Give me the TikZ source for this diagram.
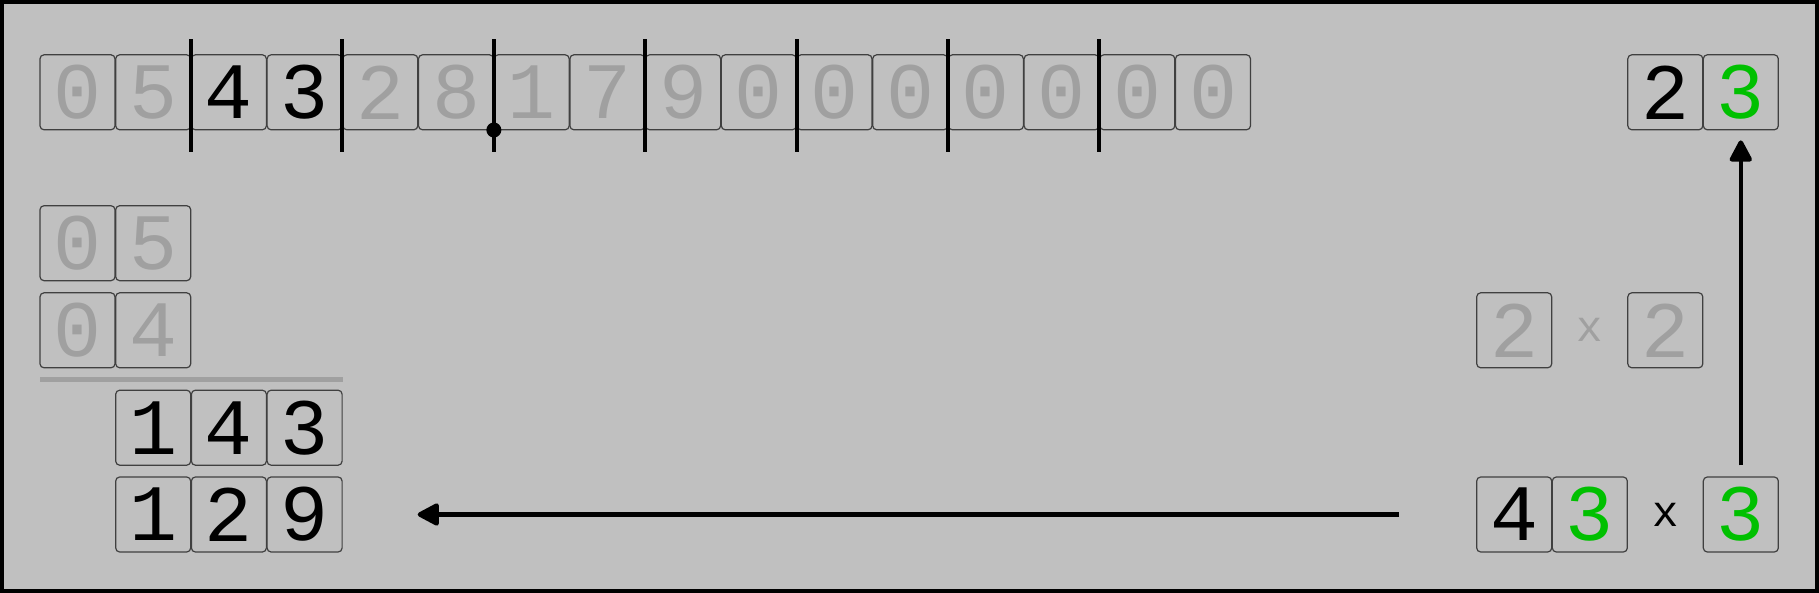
\documentclass[tikz,border=0pt]{standalone}
\usepackage{fontspec}
\setmonofont{Liberation Mono}
\usetikzlibrary{arrows.meta,calc}
\definecolor{bgc}{HTML}{C0C0C0}
\definecolor{dimc}{HTML}{A0A0A0}
\definecolor{boxc}{HTML}{404040}
\definecolor{grn}{HTML}{00C000}
\tikzset{
  cell/.style={draw=boxc, line width=1.2pt, rounded corners=4pt, minimum width=75pt, minimum height=75pt, inner sep=0pt, font=\ttfamily\fontsize{80}{96}\selectfont},
  dim/.style={text=dimc},
  hi/.style={text=black},
  gr/.style={text=grn},
  times/.style={inner sep=0pt, font=\ttfamily\fontsize{44}{50}\selectfont},
  sepline/.style={line width=4pt, black},
  arr/.style={line width=4.5pt, -{Triangle[length=24pt,width=24pt,round]}},
}
\begin{document}
\begin{tikzpicture}[x=1pt,y=-1pt]
\useasboundingbox (0,0) rectangle (1819,593);
\fill[bgc] (0,0) rectangle (1819,593);
\draw[line width=4pt, black] (2,2) rectangle (1817,591);
% top row
\foreach \d/\s [count=\i from 0] in {0/dim,5/dim,4/hi,3/hi,2/dim,8/dim,1/dim,7/dim,9/dim,0/dim,0/dim,0/dim,0/dim,0/dim,0/dim,0/dim}{
  \node[cell,\s] (c\i) at ({77.5+75.7*\i},92.3) {\d};
}
% separators
\foreach \k in {2,4,6,8,10,12,14}{
  \draw[sepline] ({40+75.7*\k-0.35},39.4) -- ({40+75.7*\k-0.35},152);
}
\fill[black] ({40+75.7*6-0.35},130) circle (7.5pt);
% left column
\node[cell,dim] (a0) at (77.5,243.2) {0};
\node[cell,dim] (a1) at (153.2,243.2) {5};
\node[cell,dim] (b0) at (77.5,330.3) {0};
\node[cell,dim] (b1) at (153.2,330.3) {4};
\draw[dimc, line width=5pt] (40,379) -- (342.5,379);
\node[cell,hi] (p1) at (153.2,427.7) {1};
\node[cell,hi] (p2) at (228.9,427.7) {4};
\node[cell,hi] (p3) at (304.6,427.7) {3};
\node[cell,hi] (d1) at (153.2,514.5) {1};
\node[cell,hi] (d2) at (228.9,514.5) {2};
\node[cell,hi] (d3) at (304.6,514.5) {9};
% right side
\node[cell,hi] (t2) at (1665.3,92.3) {2};
\node[cell,gr] (t3) at (1740.8,92.3) {3};
\node[cell,dim] (g1) at (1514.2,330.3) {2};
\node[times,text=dimc] (gx) at (1589.8,330.3) {x};
\node[cell,dim] (g2) at (1665.3,330.3) {2};
\node[cell,hi] (m1) at (1514.2,514.5) {4};
\node[cell,gr] (m2) at (1589.8,514.5) {3};
\node[times,text=black] (mx) at (1665.3,514.5) {x};
\node[cell,gr] (m3) at (1740.8,514.5) {3};
% arrows
\draw[arr] ([yshift=11pt]m3.north) -- ([yshift=-10pt]t3.south);
\draw[arr] ([xshift=-77pt]m1.west) -- ([xshift=75pt]d3.east);
\end{tikzpicture}
\end{document}
